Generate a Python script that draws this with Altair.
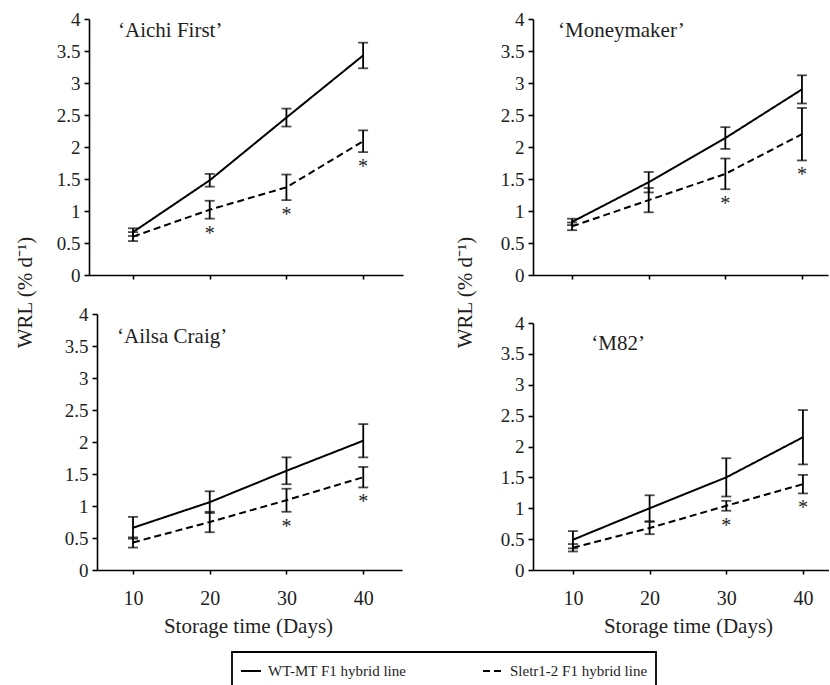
import altair as alt
import pandas as pd

SERIF = "Liberation Serif, Times New Roman, serif"
INK = "#1e1e1e"

days = [10, 20, 30, 40]
series_names = ["WT-MT F1 hybrid line", "Sletr1-2 F1 hybrid line"]

# 'Aichi First'
aichi_wt = [0.67, 1.48, 2.46, 3.43]
aichi_wt_err = [0.06, 0.10, 0.14, 0.20]
aichi_sl = [0.60, 1.02, 1.37, 2.09]
aichi_sl_err = [0.07, 0.14, 0.20, 0.17]
aichi_sig = [20, 30, 40]

# 'Moneymaker'
money_wt = [0.83, 1.45, 2.14, 2.90]
money_wt_err = [0.05, 0.16, 0.17, 0.22]
money_sl = [0.76, 1.17, 1.58, 2.20]
money_sl_err = [0.06, 0.19, 0.24, 0.41]
money_sig = [30, 40]

# 'Ailsa Craig'
ailsa_wt = [0.66, 1.06, 1.55, 2.02]
ailsa_wt_err = [0.17, 0.17, 0.21, 0.26]
ailsa_sl = [0.43, 0.75, 1.09, 1.45]
ailsa_sl_err = [0.08, 0.16, 0.18, 0.16]
ailsa_sig = [30, 40]

# 'M82'
m82_wt = [0.49, 1.00, 1.50, 2.15]
m82_wt_err = [0.14, 0.21, 0.31, 0.44]
m82_sl = [0.36, 0.68, 1.04, 1.39]
m82_sl_err = [0.06, 0.10, 0.08, 0.15]
m82_sig = [30, 40]

legend = alt.Legend(
    title=None, orient="none", legendX=143, legendY=633, direction="horizontal",
    symbolType="stroke", symbolSize=400, symbolStrokeWidth=2, symbolStrokeColor="black",
    labelFont=SERIF, labelFontSize=15, labelColor=INK, labelOffset=6,
    columnPadding=72, padding=8, strokeColor="black",
)


def panel(name, wt, wt_err, sl, sl_err, sig, width, height, xdom, xrange, yrange,
          label_x, label_y, bottom_row, yoffset=0, ytitle_x=None, xtitle_x=None):
    df = pd.DataFrame({
        "day": days + days,
        "line": [series_names[0]] * 4 + [series_names[1]] * 4,
        "mean": wt + sl,
        "err": wt_err + sl_err,
    })
    df["lo"] = df["mean"] - df["err"]
    df["hi"] = df["mean"] + df["err"]
    sdf = df[(df["line"] == series_names[1]) & (df["day"].isin(sig))]

    xaxis_kw = dict(values=days, grid=False, tickSize=4, labelFontSize=20, labelPadding=14,
                    titleFontSize=21, titlePadding=7, labelOverlap=False)
    if bottom_row:
        xaxis_kw["title"] = "Storage time (Days)"
        if xtitle_x is not None:
            xaxis_kw["titleX"] = xtitle_x
    else:
        xaxis_kw["labels"] = False
        xaxis_kw["title"] = None
    xaxis = alt.Axis(**xaxis_kw)

    yaxis_kw = dict(tickCount=8, format=".1~f", grid=False, tickSize=5, labelFontSize=19,
                    labelPadding=4, labelOverlap=False, offset=yoffset)
    if ytitle_x is not None:
        yaxis_kw.update(title="WRL (% d\u207b\u00b9)", titleX=ytitle_x, titleY=273,
                        titleFontSize=21, titleBaseline="middle", titleAlign="center")
    else:
        yaxis_kw["title"] = None
    yaxis = alt.Axis(**yaxis_kw)

    xs_kw = dict(domain=xdom, nice=False, zero=False)
    if xrange is not None:
        xs_kw["range"] = xrange
    ys_kw = dict(domain=[0, 4], nice=False, zero=False)
    if yrange is not None:
        ys_kw["range"] = yrange
    xs = alt.Scale(**xs_kw)
    ys = alt.Scale(**ys_kw)
    X = alt.X("day:Q", scale=xs, axis=xaxis)

    base = alt.Chart(df)
    lines = base.mark_line(color="black", strokeWidth=2).encode(
        x=X,
        y=alt.Y("mean:Q", scale=ys, axis=yaxis),
        strokeDash=alt.StrokeDash(
            "line:N",
            scale=alt.Scale(domain=series_names, range=[[1, 0], [7, 4]]),
            legend=legend,
        ),
    )
    bars = base.mark_rule(color="black", strokeWidth=1.8).encode(
        x=X, y=alt.Y("lo:Q", scale=ys, axis=yaxis), y2="hi:Q"
    )
    cap_hi = base.mark_tick(orient="horizontal", size=10, thickness=1.8, color="black").encode(
        x=X, y=alt.Y("hi:Q", scale=ys, axis=yaxis)
    )
    cap_lo = base.mark_tick(orient="horizontal", size=10, thickness=1.8, color="black").encode(
        x=X, y=alt.Y("lo:Q", scale=ys, axis=yaxis)
    )
    stars = alt.Chart(sdf).mark_text(
        text="*", font=SERIF, fontSize=20, color=INK, baseline="middle", dy=15
    ).encode(x=X, y=alt.Y("lo:Q", scale=ys, axis=yaxis))
    label = alt.Chart(pd.DataFrame({"t": [name]})).mark_text(
        align="left", baseline="middle", font=SERIF, fontSize=21, color=INK
    ).encode(x=alt.datum(label_x), y=alt.datum(label_y), text="t:N")

    return alt.layer(lines, bars, cap_hi, cap_lo, stars, label).properties(
        width=width, height=height
    )


A = panel("\u2018Aichi First\u2019", aichi_wt, aichi_wt_err, aichi_sl, aichi_sl_err, aichi_sig,
          314, 256, [4.26, 45.2], None, None, 8.04, 3.81, False, ytitle_x=-64)
B = panel("\u2018Moneymaker\u2019", money_wt, money_wt_err, money_sl, money_sl_err, money_sig,
          295, 256, [4.9, 43.4], None, None, 8.16, 3.81, False, ytitle_x=-68)
C = panel("\u2018Ailsa Craig\u2019", ailsa_wt, ailsa_wt_err, ailsa_sl, ailsa_sl_err, ailsa_sig,
          313, 256, [5.31, 45.05], [8, 313], None, 7.92, 3.64, True, yoffset=-8,
          xtitle_x=159)
D = panel("\u2018M82\u2019", m82_wt, m82_wt_err, m82_sl, m82_sl_err, m82_sig,
          296, 256, [4.79, 43.4], None, [256, 9], 12.4, 3.66, True, xtitle_x=155)

chart = alt.concat(A, B, C, D, columns=2, spacing={"row": 39, "column": 130},
                   bounds="flush").properties(
    padding={"left": 14, "top": 10, "right": 0, "bottom": 0}
).configure_view(stroke=None).configure_axis(
    domainColor="black", tickColor="black", labelColor=INK, titleColor=INK,
    labelFont=SERIF, titleFont=SERIF, titleFontWeight="normal",
    domainWidth=1.6, tickWidth=1.6,
).configure_legend(strokeWidth=1.8)

chart.save("out.html", embed_options={"renderer": "svg", "actions": False})
